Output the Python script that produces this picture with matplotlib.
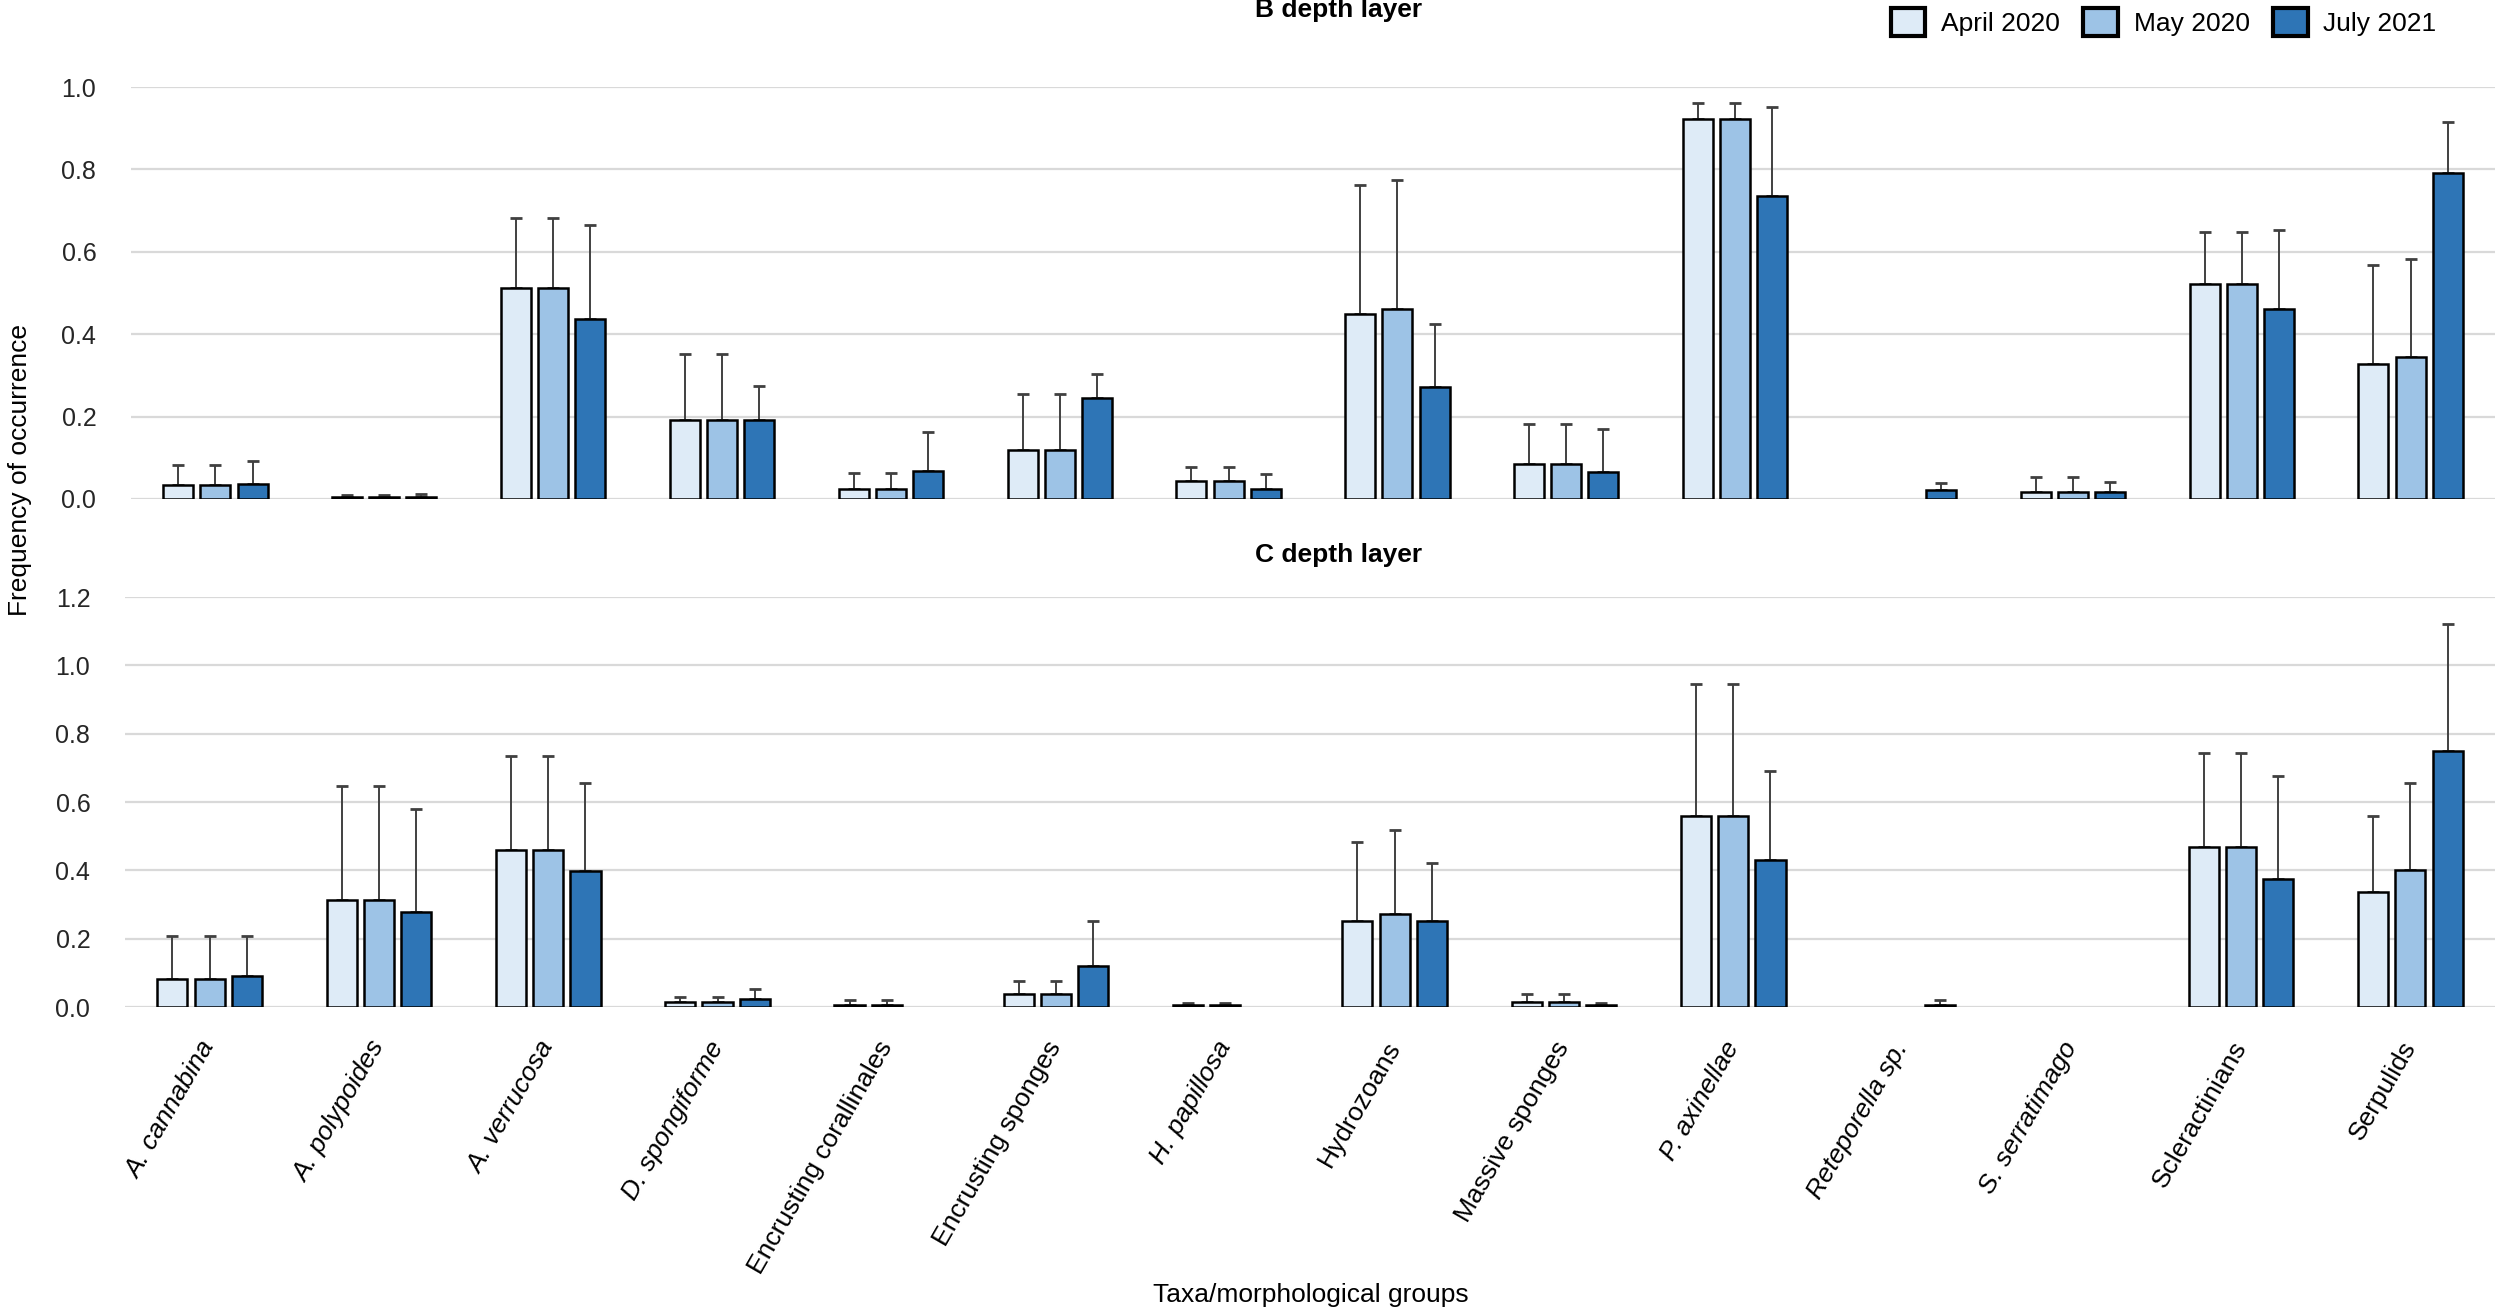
import numpy as np
import matplotlib
matplotlib.use("Agg")
import matplotlib.pyplot as plt
from matplotlib.patches import Patch

plt.rcParams['font.family'] = ['Liberation Sans', 'DejaVu Sans']

# taxa / morphological groups, italic flag for species names
groups = ["A. cannabina", "A. polypoides", "A. verrucosa", "D. spongiforme",
          "Encrusting corallinales", "Encrusting sponges", "H. papillosa",
          "Hydrozoans", "Massive sponges", "P. axinellae", "Reteporella sp.",
          "S. serratimago", "Scleractinians", "Serpulids"]
italic = [True, True, True, True, False, False, True, False, False, True, True, True, False, False]

surveys = ["April 2020", "May 2020", "July 2021"]
colors = ["#DEEBF7", "#9DC3E6", "#2E75B6"]

# B depth layer: mean frequency and SD (upper error only)
april_b = [0.034, 0.006, 0.511, 0.192, 0.024, 0.120, 0.044, 0.450, 0.086, 0.922, 0.0, 0.016, 0.523, 0.327]
april_b_sd = [0.048, 0.004, 0.171, 0.161, 0.038, 0.135, 0.034, 0.312, 0.097, 0.040, 0.0, 0.037, 0.126, 0.242]
may_b = [0.034, 0.006, 0.511, 0.192, 0.024, 0.120, 0.044, 0.460, 0.086, 0.922, 0.0, 0.016, 0.523, 0.345]
may_b_sd = [0.048, 0.004, 0.171, 0.161, 0.038, 0.135, 0.034, 0.314, 0.097, 0.040, 0.0, 0.037, 0.126, 0.238]
july_b = [0.036, 0.006, 0.436, 0.192, 0.069, 0.244, 0.024, 0.271, 0.065, 0.736, 0.022, 0.018, 0.460, 0.792]
july_b_sd = [0.056, 0.006, 0.230, 0.083, 0.093, 0.059, 0.037, 0.153, 0.104, 0.215, 0.016, 0.023, 0.192, 0.123]

# C depth layer
april_c = [0.081, 0.312, 0.461, 0.015, 0.007, 0.038, 0.005, 0.251, 0.016, 0.558, 0.0, 0.0, 0.468, 0.336]
april_c_sd = [0.126, 0.335, 0.273, 0.014, 0.013, 0.039, 0.007, 0.231, 0.022, 0.387, 0.0, 0.0, 0.276, 0.223]
may_c = [0.081, 0.312, 0.461, 0.015, 0.007, 0.038, 0.005, 0.271, 0.016, 0.558, 0.0, 0.0, 0.468, 0.401]
may_c_sd = [0.126, 0.335, 0.273, 0.014, 0.013, 0.039, 0.007, 0.248, 0.022, 0.387, 0.0, 0.0, 0.276, 0.256]
july_c = [0.090, 0.277, 0.397, 0.023, 0.0, 0.121, 0.0, 0.251, 0.005, 0.429, 0.007, 0.0, 0.374, 0.748]
july_c_sd = [0.117, 0.303, 0.260, 0.030, 0.0, 0.131, 0.0, 0.171, 0.008, 0.263, 0.013, 0.0, 0.301, 0.374]

b_layer = [(april_b, april_b_sd), (may_b, may_b_sd), (july_b, july_b_sd)]
c_layer = [(april_c, april_c_sd), (may_c, may_c_sd), (july_c, july_c_sd)]

fig = plt.figure(figsize=(25, 13.09), dpi=100)
ax_b = fig.add_axes([0.0524, 0.6188, 0.9456, 0.3147])
ax_c = fig.add_axes([0.0500, 0.2307, 0.9480, 0.3132])

x = np.arange(len(groups))
width = 0.178
offsets = [-0.22, 0.0, 0.22]


def draw_layer(ax, layer, ymax, step):
    for (vals, sds), off, col in zip(layer, offsets, colors):
        vals = np.array(vals)
        sds = np.array(sds)
        edges = ["black" if v > 0 else "none" for v in vals]
        ax.bar(x + off, vals, width, color=col, edgecolor=edges, linewidth=1.8, zorder=3)
        has_err = sds > 0
        ax.errorbar(x[has_err] + off, vals[has_err],
                    yerr=[np.zeros(has_err.sum()), sds[has_err]],
                    fmt="none", ecolor="#404040", elinewidth=1.4, capsize=4, capthick=2, zorder=2)
    ax.set_xlim(-0.5, len(groups) - 0.5)
    ax.set_ylim(0, ymax)
    ticks = np.arange(0, ymax + 0.001, step)
    ax.set_yticks(ticks)
    ax.set_yticklabels([f"{t:.1f}" for t in ticks])
    ax.yaxis.grid(True, color="#D9D9D9", linewidth=1.6, zorder=0)
    ax.set_axisbelow(True)
    for s in ax.spines.values():
        s.set_visible(False)
    ax.tick_params(axis="y", length=0, pad=25, labelsize=18, labelcolor="#262626")
    ax.tick_params(axis="x", length=0)


draw_layer(ax_b, b_layer, 1.0, 0.2)
draw_layer(ax_c, c_layer, 1.2, 0.2)
ax_b.set_xticks([])

ax_c.set_xticks(x)
ax_c.set_xticklabels(groups, rotation=60, ha="right", va="center",
                     rotation_mode="anchor", fontsize=19)
for lbl, it in zip(ax_c.get_xticklabels(), italic):
    if it:
        lbl.set_style("italic")
ax_c.tick_params(axis="x", pad=26)

fig.text(0.5356, 0.992, "B depth layer", ha="center", va="center", fontsize=19, fontweight="bold")
fig.text(0.5356, 1 - 555 / 1309, "C depth layer", ha="center", va="center", fontsize=19, fontweight="bold")
fig.text(0.008, 1 - 470 / 1309, "Frequency of occurrence", rotation=90, ha="center", va="center", fontsize=19)
fig.text(0.5244, 1 - 1295 / 1309, "Taxa/morphological groups", ha="center", va="center", fontsize=19)

handles = [Patch(facecolor=c, edgecolor="black", linewidth=3) for c in colors]
fig.legend(handles, surveys, loc="center right", bbox_to_anchor=(0.982, 1 - 22 / 1309),
           ncol=3, frameon=False, fontsize=19, handlelength=1.3, handleheight=1.3,
           columnspacing=0.9, handletextpad=0.6, borderpad=0.2)

fig.savefig("out.png", dpi=100)
